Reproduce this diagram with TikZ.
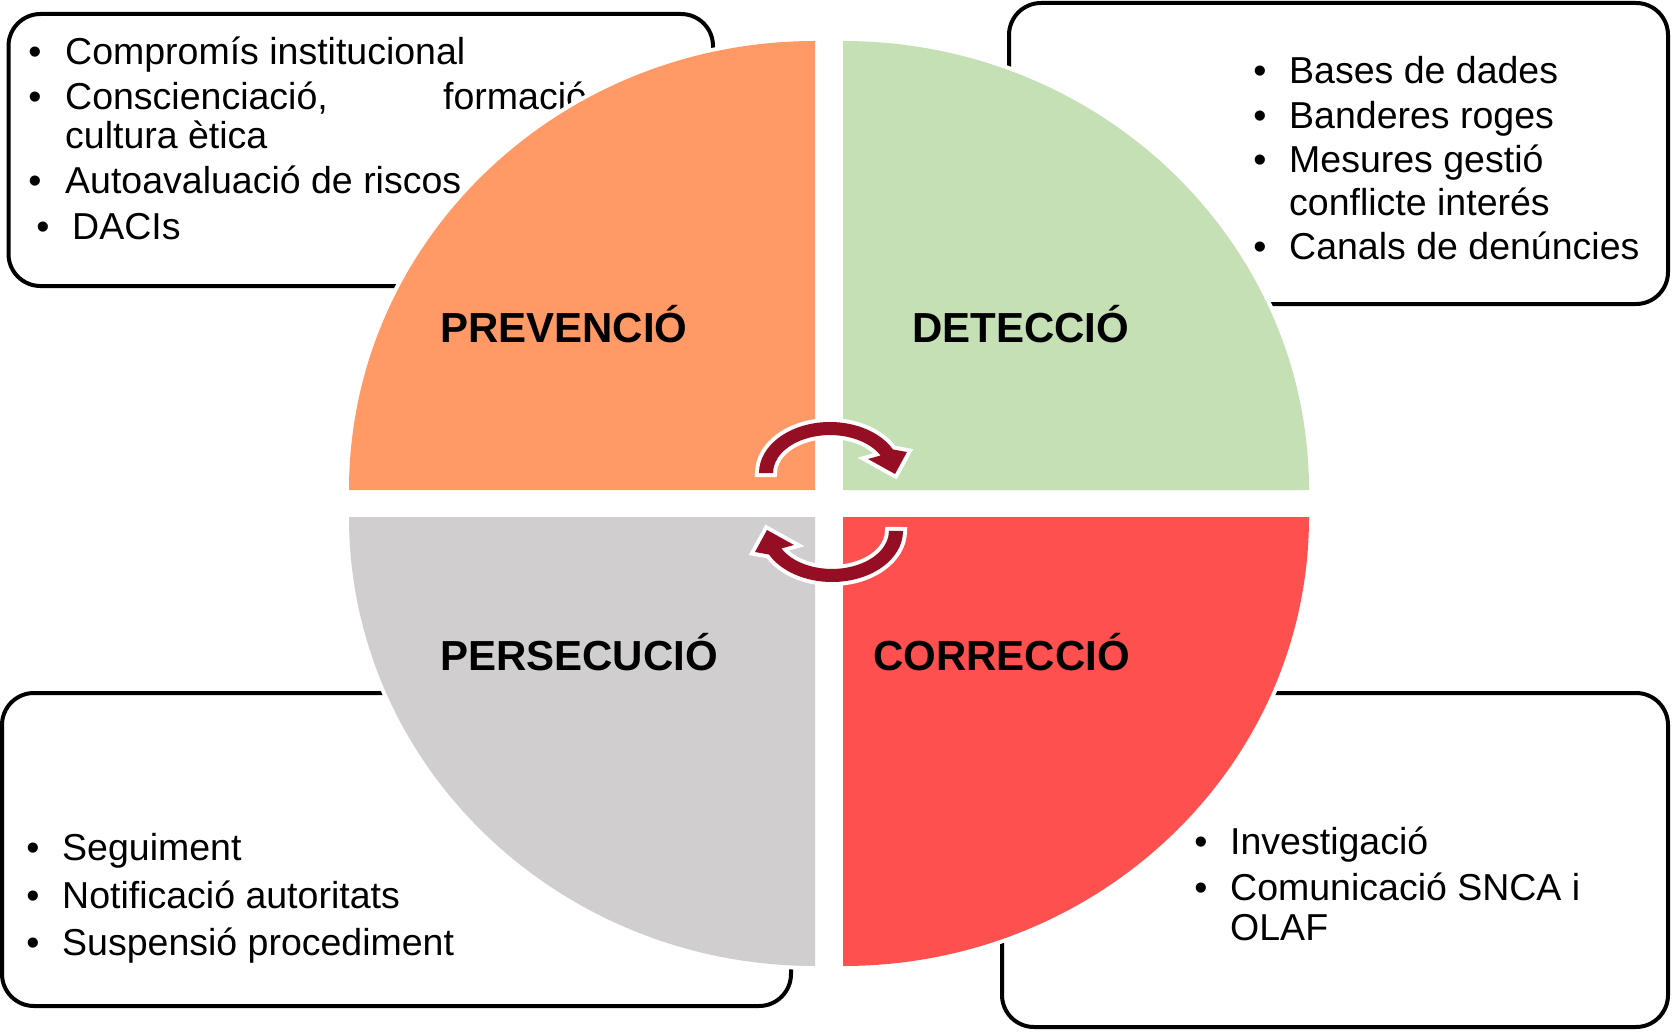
\documentclass[tikz,border=0pt]{standalone}
\usepackage{fontspec}
\setmainfont{Liberation Sans}
\usetikzlibrary{calc}
\definecolor{qorange}{HTML}{FF9966}
\definecolor{qgreen}{HTML}{C5E0B4}
\definecolor{qgray}{HTML}{D0CECE}
\definecolor{qred}{HTML}{FF5050}
\definecolor{arrowred}{HTML}{960E24}
\tikzset{
  infobox/.style={draw=black, line width=4pt, rounded corners=32pt, fill=white},
  quad/.style={preaction={draw=white, line width=8pt}},
  itemtext/.style={anchor=base west, inner sep=0pt, font=\fontsize{37.5pt}{44pt}\selectfont},
  itembullet/.style={anchor=base, inner sep=0pt, font=\fontsize{37.5pt}{44pt}\selectfont},
  title/.style={anchor=base west, inner sep=0pt, font=\fontsize{42pt}{50pt}\selectfont\bfseries},
  cyclearrow/.style={fill=arrowred, preaction={draw=white, line width=8pt, line join=miter}},
}
\begin{document}
\begin{tikzpicture}[x=1pt, y=-1pt]
\useasboundingbox (0,0) rectangle (1673,1033);

% boxes
\draw[infobox] (8.5,14) rectangle (713,286);
\draw[infobox] (1009,3) rectangle (1668,304);
\draw[infobox] (2,693) rectangle (791,1006);
\draw[infobox] (1002,693) rectangle (1668,1027);

% top-left list
\node[itembullet] (b1) at (35,65) {•};
\node[itemtext] (t1) at (65,65) {Compromís institucional};
\node[itembullet] (b2) at (35,109) {•};
\node[itemtext] (t2) at (65,109) {Conscienciació,};
\node[itemtext] (t2b) at (443,109) {formació};
\node[itemtext] (t3) at (65,148) {cultura ètica};
\node[itembullet] (b4) at (35,193) {•};
\node[itemtext] (t4) at (65,193) {Autoavaluació de riscos};
\node[itembullet] (b5) at (43,239) {•};
\node[itemtext] (t5) at (72,239) {DACIs};

% top-right list
\node[itembullet] (c1) at (1260,84) {•};
\node[itemtext] (d1) at (1289,84) {Bases de dades};
\node[itembullet] (c2) at (1260,128) {•};
\node[itemtext] (d2) at (1289,128) {Banderes roges};
\node[itembullet] (c3) at (1260,172) {•};
\node[itemtext] (d3) at (1289,172) {Mesures gestió};
\node[itemtext] (d4) at (1289,215) {conflicte interés};
\node[itembullet] (c5) at (1260,259) {•};
\node[itemtext] (d5) at (1289,259) {Canals de denúncies};

% bottom-left list
\node[itembullet] (e1) at (33,860) {•};
\node[itemtext] (f1) at (62,860) {Seguiment};
\node[itembullet] (e2) at (33,908) {•};
\node[itemtext] (f2) at (62,908) {Notificació autoritats};
\node[itembullet] (e3) at (33,955) {•};
\node[itemtext] (f3) at (62,955) {Suspensió procediment};

% bottom-right list
\node[itembullet] (g1) at (1201,854) {•};
\node[itemtext] (h1) at (1230,854) {Investigació};
\node[itembullet] (g2) at (1201,900) {•};
\node[itemtext] (h2) at (1230,900) {Comunicació SNCA i};
\node[itemtext] (h3) at (1230,940) {OLAF};

% quadrants
\path[quad, fill=qorange] (815,490) -- (349,490) arc[start angle=180, end angle=270, x radius=466, y radius=449] -- cycle;
\path[quad, fill=qgreen] (843,490) -- (843,41) arc[start angle=270, end angle=360, x radius=466, y radius=449] -- cycle;
\path[quad, fill=qgray] (815,517) -- (815,966) arc[start angle=90, end angle=180, x radius=466, y radius=449] -- cycle;
\path[quad, fill=qred] (843,517) -- (1309,517) arc[start angle=0, end angle=90, x radius=466, y radius=449] -- cycle;

% titles
\node[title] (prev) at (440,342) {PREVENCIÓ};
\node[title] (det) at (912,342) {DETECCIÓ};
\node[title] (pers) at (440,670) {PERSECUCIÓ};
\node[title] (corr) at (873,670) {CORRECCIÓ};

% cycle arrows
\path[cyclearrow] (759,473) arc[start angle=180, end angle=332.5, x radius=71, y radius=51]
  -- (907,452) -- (895,474) -- (868,459) -- (880.6,455.5)
  arc[start angle=332.5, end angle=180, x radius=57, y radius=38] -- cycle;
\begin{scope}[rotate around={180:(831,502)}]
\path[cyclearrow] (759,473) arc[start angle=180, end angle=332.5, x radius=71, y radius=51]
  -- (907,452) -- (895,474) -- (868,459) -- (880.6,455.5)
  arc[start angle=332.5, end angle=180, x radius=57, y radius=38] -- cycle;
\end{scope}
\end{tikzpicture}
\end{document}
